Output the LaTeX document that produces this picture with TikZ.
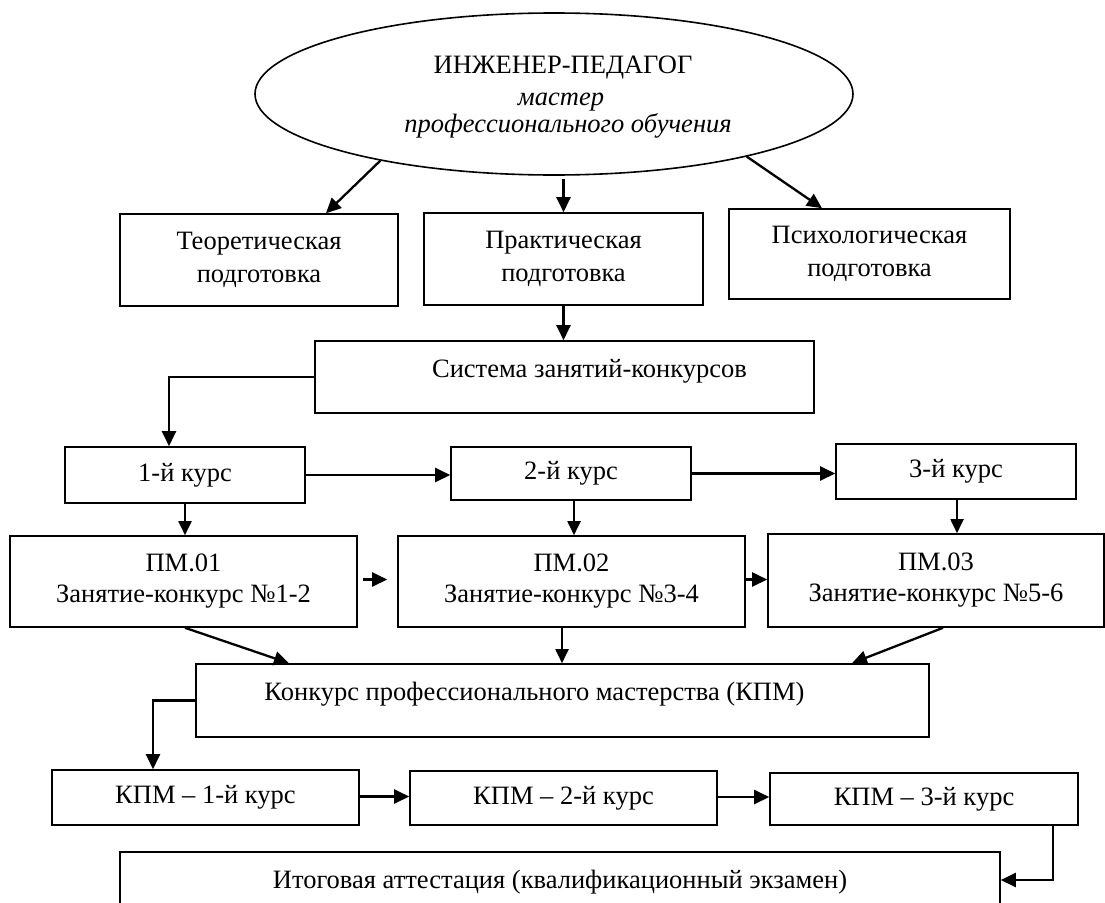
\documentclass[tikz,border=0pt]{standalone}
\usepackage{fontspec}
\setmainfont{Liberation Serif}
\usetikzlibrary{shapes.geometric,arrows.meta}
\begin{document}
\begin{tikzpicture}[x=1pt,y=-1pt,
  font=\fontsize{26.5}{33}\selectfont,
  box/.style={draw, line width=1.6pt, inner sep=0pt, align=center},
  topbox/.style={box, text height=18pt, text depth=18pt},
  oval/.style={draw, ellipse, line width=1.6pt, inner sep=0pt},
  arr/.style={line width=2.3pt, -{Triangle[length=15pt,width=14pt]}},
  thinarr/.style={line width=1.9pt, -{Triangle[length=14pt,width=13pt]}}]

\useasboundingbox (0,0) rectangle (1105,902);
\fill[white] (0,0) rectangle (1105,902);
\clip (0,0) rectangle (1105,902);

% top ellipse with its three lines
\node[oval, minimum width=598pt, minimum height=162pt] (ell) at (554,94) {};
\node[anchor=base] (ttl) at (563,73) {ИНЖЕНЕР-ПЕДАГОГ};
\node[anchor=base] (ttl2) at (561,105) {\itshape мастер};
\node[anchor=base] (ttl3) at (568,132) {\itshape профессионального обучения};

% three kinds of training
\node[box, minimum width=278pt, minimum height=92pt] (teor) at (259,260) {Теоретическая\\подготовка};
\node[box, minimum width=279pt, minimum height=92pt] (prak) at (563.5,259) {Практическая\\подготовка};
\node[box, minimum width=281pt, minimum height=90pt] (psych) at (869.5,254) {Психологическая\\подготовка};

% system of lessons
\node[topbox, minimum width=499pt, minimum height=72pt] (sys) at (564.5,377) {\hspace*{50pt}Система занятий-конкурсов};

% years
\node[box, minimum width=240pt, minimum height=56pt] (k1) at (185,475) {1-й курс};
\node[box, minimum width=240pt, minimum height=53pt] (k2) at (571,473.5) {2-й курс};
\node[box, minimum width=240pt, minimum height=55pt] (k3) at (956,471.5) {3-й курс};

% professional modules
\node[box, minimum width=347pt, minimum height=91pt] (pm1) at (183.5,581.5) {ПМ.01\\[-2pt]Занятие-конкурс №1-2};
\node[box, minimum width=347pt, minimum height=91pt] (pm2) at (571.5,581.5) {ПМ.02\\[-2pt]Занятие-конкурс №3-4};
\node[box, minimum width=336pt, minimum height=93pt] (pm3) at (936,580.5) {ПМ.03\\[-2pt]Занятие-конкурс №5-6};

% contest of professional skill
\node[topbox, minimum width=733pt, minimum height=73pt] (kpm) at (562.5,700.5) {Конкурс профессионального мастерства (КПМ)\hspace*{56pt}};

\node[box, minimum width=307pt, minimum height=55pt] (kpm1) at (205.5,797.5) {КПМ – 1-й курс};
\node[box, minimum width=307pt, minimum height=54pt] (kpm2) at (563.5,798) {КПМ – 2-й курс};
\node[box, minimum width=308pt, minimum height=52pt] (kpm3) at (924,799) {КПМ – 3-й курс};

% final attestation
\node[box, minimum width=880pt, minimum height=60pt] (itog) at (560,882) {Итоговая аттестация (квалификационный экзамен)};

% connectors
\draw[arr] (ell.201) -- ([xshift=67pt]teor.north);
\draw[arr] (ell.south -| prak.north) ++(0,3) -- (prak.north);
\draw[arr] (ell.342) -- ([xshift=-47.5pt]psych.north);
\draw[arr] (prak.south) -- (prak.south |- sys.north);
\draw[arr] (sys.west) -| ([xshift=-16pt]k1.north);

\draw[arr] (k1.east) -- (k1.east -| k2.west);
\draw[arr] (k2.east) -- (k2.east -| k3.west);
\draw[thinarr] (k1.south) -- (k1.south |- pm1.north);
\draw[thinarr] ([xshift=3pt]k2.south) -- ([xshift=3pt]k2.south |- pm2.north);
\draw[thinarr] ([xshift=1pt]k3.south) -- ([xshift=1pt]k3.south |- pm3.north);

\draw[arr] ([xshift=5pt,yshift=2pt]pm1.east) -- ([xshift=-10pt,yshift=2pt]pm2.west);
\draw[arr] ([yshift=2pt]pm2.east) -- ([yshift=2pt]pm2.east -| pm3.west);

\draw[arr] ([xshift=1.5pt]pm1.south) -- ([xshift=-273.5pt]kpm.north);
\draw[thinarr] ([xshift=-9.5pt]pm2.south) -- ([xshift=-9.5pt]pm2.south |- kpm.north);
\draw[arr] ([xshift=7pt]pm3.south) -- ([xshift=289.5pt]kpm.north);

\draw[arr] (kpm.west) -| ([xshift=-52.5pt]kpm1.north);
\draw[arr] ([yshift=1pt]kpm1.east) -- ([yshift=1pt]kpm1.east -| kpm2.west);
\draw[arr] ([yshift=1pt]kpm2.east) -- ([yshift=1pt]kpm2.east -| kpm3.west);
\draw[arr] ([xshift=129pt]kpm3.south) |- ([yshift=2pt]itog.east);
\end{tikzpicture}
\end{document}
